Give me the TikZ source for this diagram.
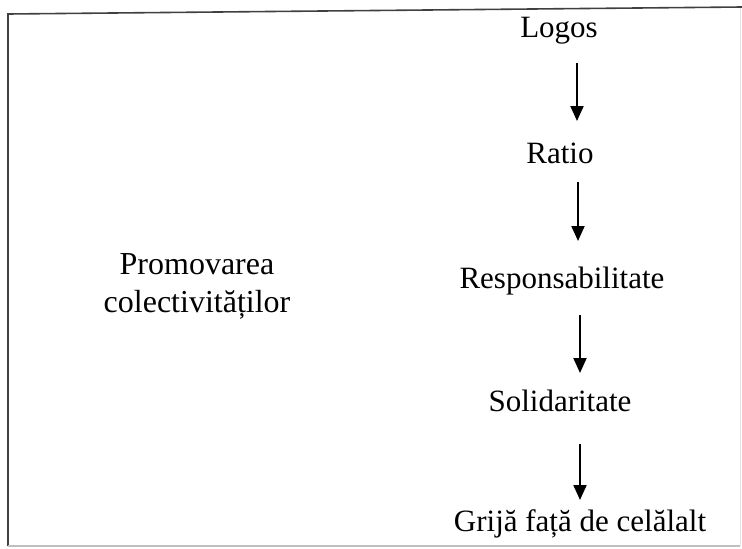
\documentclass[tikz,border=0pt]{standalone}
\usepackage{fontspec}
\setmainfont{Liberation Serif}
\usetikzlibrary{arrows.meta}
\begin{document}
\begin{tikzpicture}[x=1pt,y=-1pt,
  lbl/.style={inner sep=0pt, font=\fontsize{31}{37}\selectfont, anchor=base},
  flow/.style={line width=2pt, -{Triangle[length=15pt,width=13pt]}},
  frame/.style={line width=1.6pt, draw=black!75},
  faint/.style={line width=1.2pt, draw=black!25}]
\useasboundingbox (0,0) rectangle (742,549);
% frame
\draw[frame] (8,546) -- (8,14) -- (742,7);
\draw[faint] (8,546) -- (740,546);
\draw[line width=1pt, draw=black!10] (740,546) -- (740,8);
% texts
\node[lbl] (logos) at (559,37) {Logos};
\node[lbl] (ratio) at (560,163) {Ratio};
\node[lbl] (resp) at (562,288) {Responsabilitate};
\node[lbl] (sol) at (560,411) {Solidaritate};
\node[lbl] (grija) at (580,531) {Grijă față de celălalt};
\node[inner sep=0pt, font=\fontsize{32}{38}\selectfont, align=center, anchor=base] (prom) at (197,312) {Promovarea\\colectivităților};
% arrow ends
\coordinate (a1s) at (577,63);  \coordinate (a1e) at (577,121);
\coordinate (a2s) at (578,182); \coordinate (a2e) at (578,241);
\coordinate (a3s) at (580,315); \coordinate (a3e) at (580,373);
\coordinate (a4s) at (580,444); \coordinate (a4e) at (580,500);
\draw[flow] (a1s) -- (a1e);
\draw[flow] (a2s) -- (a2e);
\draw[flow] (a3s) -- (a3e);
\draw[flow] (a4s) -- (a4e);
\end{tikzpicture}
\end{document}
